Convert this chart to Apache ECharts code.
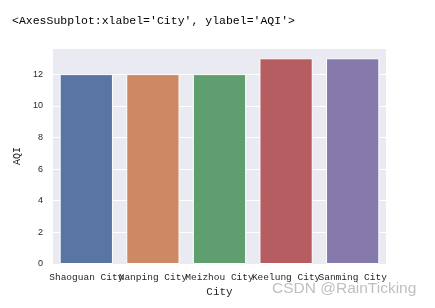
<!DOCTYPE html>
<html><head><meta charset="utf-8">
<script src="https://cdn.jsdelivr.net/npm/echarts@6/dist/echarts.min.js"></script>
<style>html,body{margin:0;padding:0;background:#fff}#c{width:435px;height:308px}</style>
</head><body><div id="c"></div>
<script>
const categories = ['Shaoguan City', 'Nanping City', 'Meizhou City', 'Keelung City', 'Sanming City'];
const aqiValues = [12, 12, 12, 13, 13];
const barColors = ['#5975a4', '#cc8963', '#5f9e6e', '#b55d60', '#857aab'];
const yTicks = [0, 2, 4, 6, 8, 10, 12];

const chart = echarts.init(document.getElementById('c'));
chart.setOption({
  animation: false,
  backgroundColor: '#fff',
  title: {
    text: "<AxesSubplot:xlabel='City', ylabel='AQI'>",
    left: 7, top: 10,
    textStyle: {fontFamily: 'Liberation Mono', fontSize: 11.5, fontWeight: 'normal', color: '#000'}
  },
  graphic: [{
    type: 'text', left: 272, top: 281,
    style: {text: 'CSDN @RainTicking', font: '15.5px "Liberation Sans"', fill: '#c0c0c0'}
  }],
  grid: {left: 53, top: 48, width: 333, height: 216, show: true, backgroundColor: '#eaeaf2', borderWidth: 0},
  xAxis: {
    type: 'category', data: categories,
    name: 'City', nameLocation: 'middle', nameGap: 21,
    nameTextStyle: {fontFamily: 'Liberation Mono', fontSize: 11, color: '#262626'},
    axisLine: {show: false}, axisTick: {show: false},
    axisLabel: {fontFamily: 'Liberation Mono', fontSize: 9.5, color: '#262626', margin: 8, interval: 0},
    splitLine: {show: false}
  },
  yAxis: {
    type: 'value', min: 0, max: 13.65, interval: 2,
    name: 'AQI', nameLocation: 'middle', nameGap: 25, nameRotate: 90,
    nameTextStyle: {fontFamily: 'Liberation Mono', fontSize: 10, color: '#262626'},
    axisLine: {show: false}, axisTick: {show: false},
    axisLabel: {fontFamily: 'Liberation Sans', fontSize: 9, color: '#262626', margin: 10,
      formatter: v => (yTicks.includes(v) ? String(v) : '')},
    splitLine: {show: true, lineStyle: {color: '#fff', width: 1}}
  },
  series: [{
    type: 'bar', barWidth: '80%',
    data: aqiValues.map((v, i) => ({value: v, itemStyle: {color: barColors[i]}})),
    itemStyle: {borderColor: '#fff', borderWidth: 1}
  }]
});
</script></body></html>
